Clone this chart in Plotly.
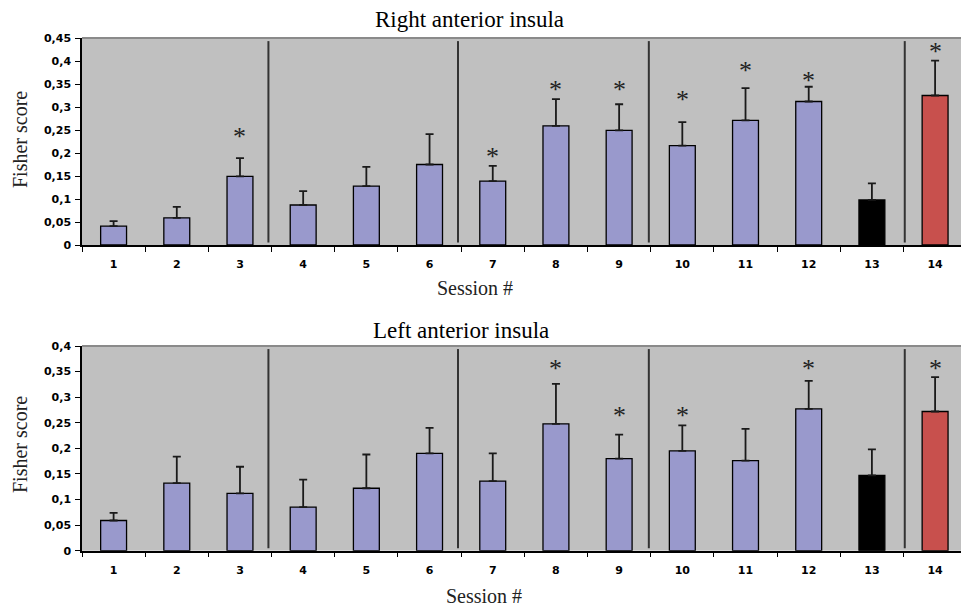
import plotly.graph_objects as go

W, H = 961, 607

sessions = [str(i) for i in range(1, 15)]

right_mean = [0.041, 0.059, 0.149, 0.087, 0.128, 0.175, 0.139, 0.259, 0.249, 0.216, 0.271, 0.312, 0.098, 0.325]
right_err = [0.011, 0.024, 0.040, 0.030, 0.042, 0.066, 0.033, 0.058, 0.057, 0.051, 0.070, 0.032, 0.036, 0.076]
left_mean = [0.059, 0.132, 0.112, 0.085, 0.122, 0.190, 0.136, 0.248, 0.180, 0.195, 0.176, 0.277, 0.147, 0.272]
left_err = [0.015, 0.052, 0.052, 0.054, 0.066, 0.050, 0.054, 0.078, 0.047, 0.050, 0.062, 0.055, 0.051, 0.067]

bar_colors = ["#9999cc"] * 12 + ["#000000", "#c8504d"]

right_star_sessions = ["3", "7", "8", "9", "10", "11", "12", "14"]
right_star_y = [0.246, 0.204, 0.350, 0.350, 0.328, 0.391, 0.368, 0.431]
left_star_sessions = ["8", "9", "10", "12", "14"]
left_star_y = [0.365, 0.274, 0.274, 0.365, 0.365]

right_tickvals = [0, 0.05, 0.1, 0.15, 0.2, 0.25, 0.3, 0.35, 0.4, 0.45]
right_ticktext = ["0", "0,05", "0,1", "0,15", "0,2", "0,25", "0,3", "0,35", "0,4", "0,45"]
left_tickvals = [0, 0.05, 0.1, 0.15, 0.2, 0.25, 0.3, 0.35, 0.4]
left_ticktext = ["0", "0,05", "0,1", "0,15", "0,2", "0,25", "0,3", "0,35", "0,4"]

titles = ["Right anterior insula", "Left anterior insula"]
x_title = "Session #"
y_title = "Fisher score"

# separators between session groups (category index positions)
separators = [2.45, 5.45, 8.47, 12.52]

serif = "Liberation Serif, Times New Roman, serif"
tickfont = dict(family="DejaVu Sans, Verdana, sans-serif", size=11, color="#000000", weight="bold")

xdom = [82 / W, 1.0]
top_dom = [1 - 245 / H, 1 - 38 / H]
bot_dom = [1 - 550.7 / H, 1 - 346 / H]

fig = go.Figure()

panels = [
    ("x", "y", right_mean, right_err),
    ("x2", "y2", left_mean, left_err),
]

for xa, ya, mean, err in panels:
    fig.add_trace(go.Bar(
        x=sessions, y=mean, xaxis=xa, yaxis=ya, width=0.41,
        marker=dict(color=bar_colors, line=dict(color="#000000", width=1.3)),
        error_y=dict(type="data", symmetric=False, array=err, arrayminus=[0] * len(err),
                     color="#1a1a1a", thickness=1.8, width=4),
        hoverinfo="skip",
    ))

axis_common = dict(
    type="category", range=[-0.5, 13.41], tickson="boundaries",
    ticks="outside", ticklen=5, tickcolor="#000000", tickwidth=1.2,
    showline=True, linecolor="#000000", linewidth=1.5,
    showgrid=False, zeroline=False, tickfont=tickfont, ticklabelstandoff=8,
    fixedrange=True, automargin=False,
)

yaxis_common = dict(
    ticks="outside", ticklen=5, tickcolor="#000000",
    showline=True, linecolor="#000000", linewidth=1.5, showgrid=False,
    zeroline=False, tickfont=tickfont, ticklabelstandoff=2, fixedrange=True,
    automargin=False,
)

fig.update_layout(
    width=W, height=H,
    margin=dict(l=0, r=0, t=0, b=0, autoexpand=False),
    paper_bgcolor="#ffffff",
    plot_bgcolor="#c0c0c0",
    showlegend=False,
    xaxis=dict(domain=xdom, anchor="y", **axis_common),
    xaxis2=dict(domain=xdom, anchor="y2", **axis_common),
    yaxis=dict(domain=top_dom, anchor="x", range=[0, 0.45], tickvals=right_tickvals,
               ticktext=right_ticktext, **yaxis_common),
    yaxis2=dict(domain=bot_dom, anchor="x2", range=[0, 0.40], tickvals=left_tickvals,
                ticktext=left_ticktext, **yaxis_common),
)

shapes = []
for xa, ya in [("x", "y"), ("x2", "y2")]:
    # top border of plot area
    shapes.append(dict(type="line", xref=f"{xa} domain", yref=f"{ya} domain",
                       x0=0, x1=1, y0=1, y1=1, line=dict(color="#8a8a8a", width=2)))
    for s in separators:
        shapes.append(dict(type="line", xref=xa, yref=f"{ya} domain", x0=s, x1=s,
                           y0=0.012, y1=0.985, line=dict(color="#333333", width=2)))
fig.update_layout(shapes=shapes)

ann = []
# significance stars (category positions resolved via index on the category axis)
for xa, ya, ss, sy in [("x", "y", right_star_sessions, right_star_y),
                       ("x2", "y2", left_star_sessions, left_star_y)]:
    for s, v in zip(ss, sy):
        ann.append(dict(text="*", xref=xa, yref=ya, x=sessions.index(s), y=v,
                        xanchor="center", yanchor="middle", yshift=-5, showarrow=False,
                        font=dict(family=serif, size=26, color="#222222")))

title_y = [20, 330]
title_x = [469, 461]
xt_y = [288, 596]
xt_x = [475, 484]
yt_y = [140, 445]
for i in range(2):
    ann.append(dict(text=titles[i], xref="paper", yref="paper", x=title_x[i] / W,
                    y=1 - title_y[i] / H, xanchor="center", yanchor="middle", showarrow=False,
                    font=dict(family=serif, size=23, color="#000000")))
    ann.append(dict(text=x_title, xref="paper", yref="paper", x=xt_x[i] / W,
                    y=1 - xt_y[i] / H, xanchor="center", yanchor="middle", showarrow=False,
                    font=dict(family=serif, size=20, color="#222222")))
    ann.append(dict(text=y_title, xref="paper", yref="paper", x=20 / W,
                    y=1 - yt_y[i] / H, xanchor="center", yanchor="middle", showarrow=False,
                    textangle=-90, font=dict(family=serif, size=20, color="#222222")))
fig.update_layout(annotations=ann)

fig.write_html(
    "out.html",
    config={"displayModeBar": False},
    post_script="document.body.style.margin='0';document.body.style.overflow='hidden';",
)
